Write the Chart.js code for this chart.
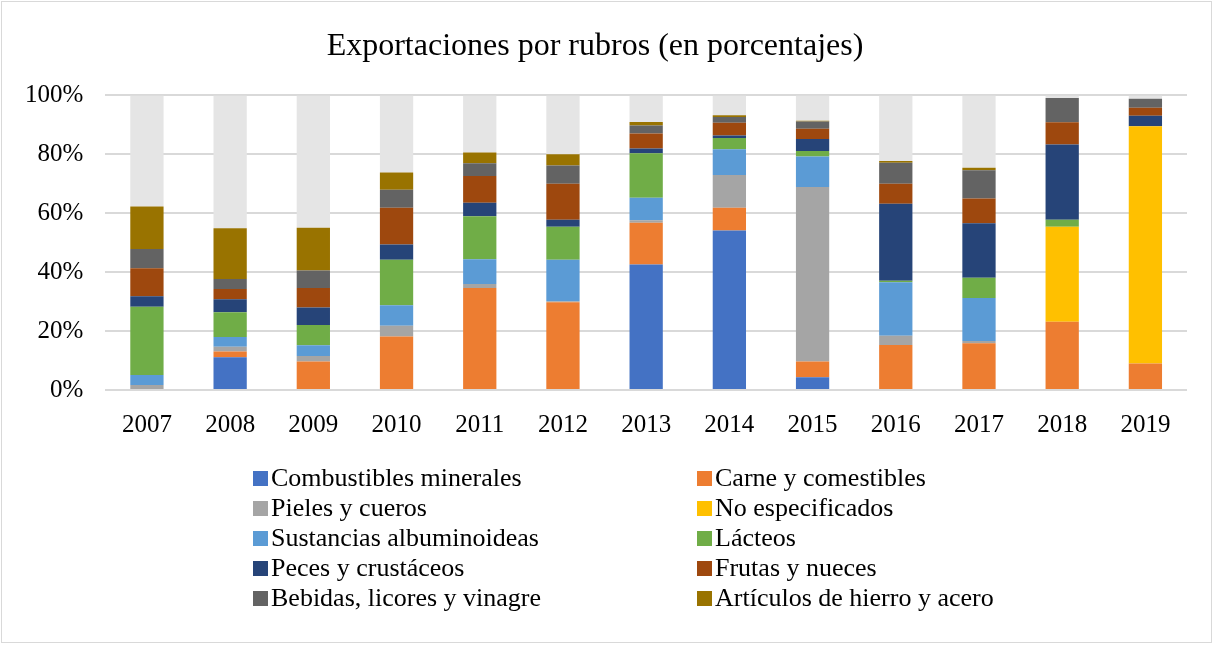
<!DOCTYPE html>
<html>
<head>
<meta charset="utf-8">
<script src="https://cdn.jsdelivr.net/npm/chart.js@4/dist/chart.umd.min.js"></script>
<style>
  html, body { margin: 0; padding: 0; background: #fff; }
  #marco {
    position: absolute; left: 1px; top: 1px; width: 1211px; height: 642px;
    border: 1px solid #d9d9d9; box-sizing: border-box;
  }
  #grafico { position: absolute; left: 0; top: 0; width: 1215px; height: 646px; }
  #leyenda {
    position: absolute; left: 253px; top: 463px; width: 820px;
    display: grid; grid-template-columns: 444px 376px; row-gap: 0;
    font-family: "Liberation Serif", "Times New Roman", serif; font-size: 26px; color: #000;
  }
  #leyenda div { height: 30px; line-height: 30px; white-space: nowrap; }
  #leyenda span.caja {
    display: inline-block; width: 15px; height: 15px; margin-right: 3px; vertical-align: 0px;
  }
</style>
</head>
<body>
<div id="marco"></div>
<div id="grafico"><canvas id="c" width="1215" height="646"></canvas></div>
<div id="leyenda"></div>
<script>
const anios = ['2007', '2008', '2009', '2010', '2011', '2012', '2013', '2014', '2015', '2016', '2017', '2018', '2019'];

const combustibles = [0, 11.1, 0, 0, 0, 0, 42.6, 54.1, 4.3, 0, 0, 0, 0];
const carne = [0, 2.0, 9.7, 18.2, 34.6, 29.8, 14.2, 7.8, 5.4, 15.3, 15.9, 23.2, 9.0];
const pieles = [1.7, 1.6, 1.8, 3.6, 1.4, 0.3, 0.8, 11.1, 59.2, 3.1, 0.7, 0, 0];
const noEspecificados = [0, 0, 0, 0, 0, 0, 0, 0, 0, 0, 0, 32.2, 80.5];
const sustancias = [3.4, 3.3, 3.7, 7.0, 8.4, 14.1, 7.7, 8.7, 10.4, 18.2, 14.6, 0, 0];
const lacteos = [23.2, 8.4, 6.9, 15.4, 14.6, 11.2, 15.1, 3.8, 1.8, 0.5, 6.9, 2.4, 0];
const peces = [3.5, 4.4, 5.9, 5.2, 4.6, 2.4, 1.6, 0.9, 4.1, 26.1, 18.5, 25.5, 3.6];
const frutas = [9.5, 3.5, 6.6, 12.5, 9.0, 12.2, 5.1, 4.3, 3.5, 6.8, 8.4, 7.6, 2.7];
const bebidas = [6.6, 3.4, 6.0, 6.1, 4.4, 6.2, 2.7, 2.0, 2.4, 7.1, 9.6, 8.2, 3.1];
const articulos = [14.4, 17.2, 14.5, 5.8, 3.6, 3.8, 1.2, 0.6, 0.3, 0.6, 0.8, 0, 0];
// resto hasta 100% (sin entrada en la leyenda)
const otros = [37.7, 45.1, 44.9, 26.2, 19.4, 20.0, 9.0, 6.7, 8.6, 22.3, 24.6, 0.9, 1.1];

const yTicks = [0, 20, 40, 60, 80, 100];

const series = [
    { label: 'Combustibles minerales', data: combustibles, color: '#4472C4' },
    { label: 'Carne y comestibles', data: carne, color: '#ED7D31' },
    { label: 'Pieles y cueros', data: pieles, color: '#A5A5A5' },
    { label: 'No especificados', data: noEspecificados, color: '#FFC000' },
    { label: 'Sustancias albuminoideas', data: sustancias, color: '#5B9BD5' },
    { label: 'Lácteos', data: lacteos, color: '#70AD47' },
    { label: 'Peces y crustáceos', data: peces, color: '#264478' },
    { label: 'Frutas y nueces', data: frutas, color: '#9E480E' },
    { label: 'Bebidas, licores y vinagre', data: bebidas, color: '#636363' },
    { label: 'Artículos de hierro y acero', data: articulos, color: '#997300' },
    { label: 'Otros', data: otros, color: '#E5E5E5', oculto: true }
];

const fuente = "'Liberation Serif', 'Times New Roman', serif";

new Chart(document.getElementById('c'), {
    type: 'bar',
    data: {
        labels: anios,
        datasets: series.map(s => ({
            label: s.label,
            data: s.data,
            backgroundColor: s.color,
            borderWidth: 0,
            barPercentage: 0.4,
            categoryPercentage: 1
        }))
    },
    options: {
        responsive: false,
        animation: false,
        layout: { padding: { left: 3, right: 28, top: 0, bottom: 186 } },
        scales: {
            x: {
                stacked: true,
                grid: { display: false, drawTicks: false },
                border: { display: false },
                ticks: { color: '#000', font: { family: fuente, size: 25 }, padding: 20 }
            },
            y: {
                stacked: true,
                min: 0,
                max: 100,
                afterBuildTicks: axis => { axis.ticks = yTicks.map(v => ({ value: v })); },
                grid: { color: '#d9d9d9', lineWidth: 2, drawTicks: false },
                border: { display: false },
                ticks: {
                    color: '#000',
                    font: { family: fuente, size: 25 },
                    padding: 22,
                    callback: v => v + '%'
                }
            }
        },
        plugins: {
            legend: { display: false },
            tooltip: { enabled: false },
            title: {
                display: true,
                text: 'Exportaciones por rubros (en porcentajes)',
                color: '#000',
                font: { family: fuente, size: 32, weight: 'normal' },
                padding: { top: 27, bottom: 30 }
            }
        }
    }
});

const leyenda = document.getElementById('leyenda');
series.filter(s => !s.oculto).forEach(s => {
    const item = document.createElement('div');
    item.innerHTML = '<span class="caja" style="background:' + s.color + '"></span>' + s.label;
    leyenda.appendChild(item);
});
</script>
</body>
</html>
